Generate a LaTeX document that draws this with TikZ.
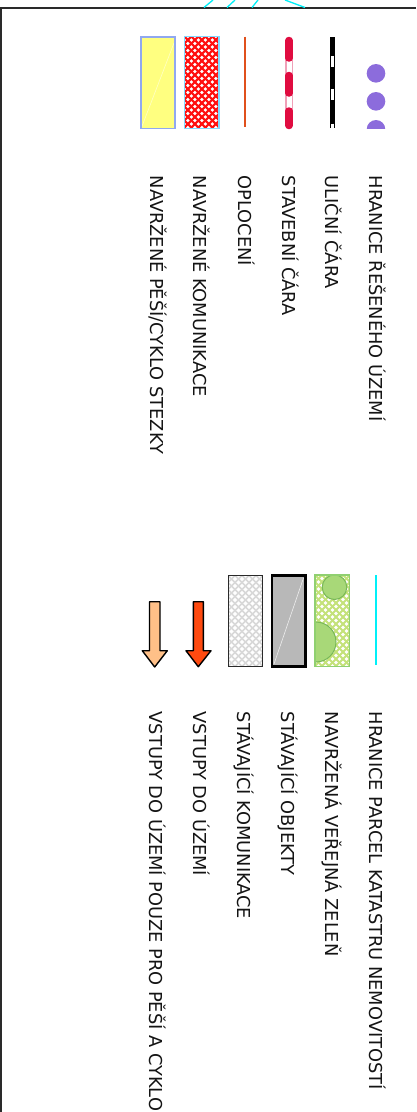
\documentclass[tikz,border=0pt]{standalone}
\usepackage{fontspec}
\setmainfont{DejaVu Sans}
\definecolor{frame}{HTML}{2A2A2A}
\definecolor{purp}{HTML}{8C6CDC}
\definecolor{crim}{HTML}{E00C40}
\definecolor{crimgap}{HTML}{F0A0B8}
\definecolor{fence}{HTML}{E0501C}
\definecolor{hatchred}{HTML}{FF1010}
\definecolor{cyanb}{HTML}{80D8FF}
\definecolor{yel}{HTML}{FFFF80}
\definecolor{yelb}{HTML}{90A8F0}
\definecolor{grnb}{HTML}{90D070}
\definecolor{grnh}{HTML}{C4E27A}
\definecolor{grnc}{HTML}{A8D878}
\definecolor{grncb}{HTML}{78B858}
\definecolor{objg}{HTML}{B8B8B8}
\definecolor{komh}{HTML}{D8D8D8}
\definecolor{arrred}{HTML}{FF4A10}
\definecolor{arrpeach}{HTML}{FFC088}
\definecolor{parcel}{HTML}{00F0F8}
\newcommand{\myhatch}[6]{%
  \begin{scope}
    \clip (#1,#2) rectangle (#3,#4);
    \foreach \k in {-22,...,22}{
      \draw[#5, line width=#6] ({#1+\k*7},#2) -- ++(130,130);
      \draw[#5, line width=#6] ({#1+\k*7},#2) -- ++(-130,130);
    }
  \end{scope}}
\begin{document}
\begin{tikzpicture}[x=1pt,y=-1pt,
  lbl/.style={font=\fontsize{17.8}{20}\selectfont, rotate=-90, anchor=base west, inner sep=0pt, text=black!92},
  arrowshape/.style={draw=black, line width=1.4pt, line join=round}]
\useasboundingbox (0,0) rectangle (416,1112);
\fill[white] (0,0) rectangle (416,1112);
% frame
\draw[frame, line width=1.8pt] (0,8) -- (416,8);
\draw[frame, line width=2pt] (1,8) -- (1,1112);
\draw[parcel, line width=1.3pt] (204,7.5) -- (213,0);
\draw[parcel, line width=1.3pt] (227,7.5) -- (235,0);
\draw[parcel, line width=1.3pt] (252,7.5) -- (258,0);
\draw[parcel, line width=1.3pt] (285,0) -- (305,7.5);

% ---- column 1 symbols ----
% purple dots
\begin{scope}
  \clip (360,36) rectangle (392,128.3);
  \foreach \cy in {73.3,101.3,129.3}{
    \fill[purp] (376,\cy) circle[radius=9.3pt];
  }
\end{scope}
% street line
\draw[black, line width=5pt] (332.5,37) -- (332.5,128.3);
\foreach \a/\b in {56/66.5,89/100,123.5/128.3}{
  \draw[white, line width=2.6pt] (332.5,\a) -- (332.5,\b);
}
% building line
\draw[crimgap, line width=7.5pt] (289,40) -- (289,126);
\draw[white, line width=5pt] (289,40) -- (289,126);
\foreach \a/\b in {40.5/58,75.5/93,111/125.5}{
  \draw[crim, line width=7.5pt, line cap=round] (289,\a) -- (289,\b);
}
% fence
\draw[fence, line width=1.8pt] (245,36.7) -- (245,127);
% proposed roads (red hatch)
\fill[white] (184.3,36.5) rectangle (218.7,128.3);
\myhatch{184.3}{36.5}{218.7}{128.3}{hatchred}{2.1pt}
\draw[cyanb, line width=1.6pt] (184.3,36.5) rectangle (218.7,128.3);
% pedestrian/cycle (yellow)
\fill[yel] (140.8,36.7) rectangle (174.8,128.3);
\draw[white!55!yel, line width=0.6pt] (141.5,127.5) -- (174,43);
\draw[yelb, line width=1.6pt] (140.8,36.7) rectangle (174.8,128.3);

% ---- column 1 labels ----
\node[lbl] (l1) at (369.5,175.5) {HRANICE ŘEŠENÉHO ÚZEMÍ};
\node[lbl] (l2) at (325.5,175.5) {ULIČNÍ ČÁRA};
\node[lbl] (l3) at (282,175.5) {STAVEBNÍ ČÁRA};
\node[lbl] (l4) at (238,175.5) {OPLOCENÍ};
\node[lbl] (l5) at (193,175.5) {NAVRŽENÉ KOMUNIKACE};
\node[lbl] (l6) at (150,175.5) {NAVRŽENÉ PĚŠÍ/CYKLO STEZKY};

% ---- column 2 symbols ----
% parcel boundary
\draw[parcel, line width=1.8pt] (376,575) -- (376,664.5);
% public green
\fill[white] (315,575) rectangle (349.5,666.5);
\myhatch{315}{575}{349.5}{666.5}{grnh}{1.8pt}
\begin{scope}
  \clip (315,575) rectangle (349.5,666.5);
  \filldraw[fill=grnc, draw=grncb, line width=1pt] (334.5,587.2) circle[radius=12.3pt];
  \filldraw[fill=grnc, draw=grncb, line width=1pt] (316,642) circle[radius=20pt];
\end{scope}
\draw[grnb, line width=1.3pt] (315,575) rectangle (349.5,666.5);
% existing objects
\fill[objg] (272,575.5) rectangle (305.5,666.5);
\draw[white!75!objg, line width=0.6pt] (274,664) -- (303.5,578);
\draw[black, line width=2.8pt] (272,575.5) rectangle (305.5,666.5);
% existing roads
\fill[white] (228,575.5) rectangle (262,666.5);
\myhatch{228}{575.5}{262}{666.5}{komh}{1.6pt}
\draw[frame, line width=0.9pt] (228,575.5) rectangle (262,666.5);
% arrows
\filldraw[arrowshape, fill=arrred] (193.3,601.7) -- (203.3,601.7) -- (203.3,650.7) -- (211,650.7)
  -- (198.3,666.7) -- (186,650.7) -- (193.3,650.7) -- cycle;
\filldraw[arrowshape, fill=arrpeach] (149.5,601.7) -- (160,601.7) -- (160,650.7) -- (167.3,650.7)
  -- (154.7,667) -- (142.3,650.7) -- (149.5,650.7) -- cycle;

% ---- column 2 labels ----
\node[lbl] (r1) at (369.5,711.5) {HRANICE PARCEL KATASTRU NEMOVITOSTÍ};
\node[lbl] (r2) at (325.5,711.5) {NAVRŽENÁ VEŘEJNÁ ZELEŇ};
\node[lbl] (r3) at (281.5,711.5) {STÁVAJÍCÍ OBJEKTY};
\node[lbl] (r4) at (237.5,711.5) {STÁVAJÍCÍ KOMUNIKACE};
\node[lbl] (r5) at (193.5,711.5) {VSTUPY DO ÚZEMÍ};
\node[lbl] (r6) at (149.5,711.5) {VSTUPY DO ÚZEMÍ POUZE PRO PĚŠÍ A CYKLO};
\end{tikzpicture}
\end{document}
